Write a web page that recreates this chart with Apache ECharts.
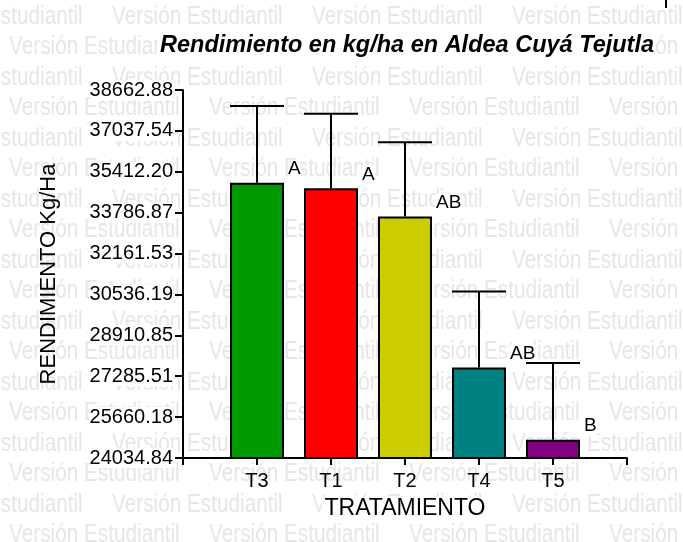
<!DOCTYPE html>
<html>
<head>
<meta charset="utf-8">
<script src="https://cdn.jsdelivr.net/npm/echarts@6/dist/echarts.min.js"></script>
<style>
  html, body { margin: 0; padding: 0; background: #fff; }
  #chart { width: 683px; height: 542px; }
</style>
</head>
<body>
<div id="chart"></div>
<script>
// data
const categories = ["T3", "T1", "T2", "T4", "T5"];
const means = [34980, 34760, 33630, 27630, 24760];
const errors = [3050, 2960, 2960, 3020, 3050];
const letters = ["A", "A", "AB", "AB", "B"];
const yTicks = [24034.84, 25660.18, 27285.51, 28910.85, 30536.19,
                32161.53, 33786.87, 35412.20, 37037.54, 38662.88];
const barColors = ["#009900", "#ff0000", "#cccc00", "#008080", "#800080"];

const BAR_W = 54;
const chart = echarts.init(document.getElementById("chart"));

// category axis has an empty slot on each side, like the original
const xData = [""].concat(categories, [""]);
const barData = ["-"];
means.forEach((v, i) => {
    barData.push({ value: v, itemStyle: { color: barColors[i] } });
});
barData.push("-");
const errData = means.map((v, i) => [i + 1, v, v + errors[i]]);

// "Versión Estudiantil" watermark rows (narrow font faked with scaleX)
const wm = [];
for (let r = 0; r < 18; r++) {
    const y = 17 + 30.5 * r;
    const x0 = r % 2 === 0 ? -88 : 9;
    for (let k = 0; k < 4; k++) {
        wm.push({
            type: "text",
            x: x0 + 200 * k,
            y: y,
            scaleX: 0.83,
            z: -10,
            silent: true,
            style: {
                text: "Versión Estudiantil",
                fill: "#e6e6e6",
                font: "25px 'Liberation Sans', sans-serif",
                verticalAlign: "middle"
            }
        });
    }
}
wm.push({
    type: "rect",
    shape: { x: 665, y: 0, width: 2, height: 8 },
    style: { fill: "#000" }
});

chart.setOption({
    animation: false,
    backgroundColor: "#fff",
    graphic: wm,
    title: {
        text: "Rendimiento en kg/ha en Aldea Cuyá Tejutla",
        left: 158,
        top: 34,
        padding: [0, 2],
        backgroundColor: "#fff",
        textStyle: {
            fontFamily: "Liberation Sans",
            fontSize: 23.5,
            fontWeight: "bold",
            fontStyle: "italic",
            color: "#000"
        }
    },
    grid: {
        left: 183,
        right: 56,
        top: 90,
        bottom: 84,
        outerBoundsMode: "none"
    },
    xAxis: {
        type: "category",
        data: xData,
        boundaryGap: false,
        name: "TRATAMIENTO",
        nameLocation: "middle",
        nameGap: 39,
        nameTextStyle: {
            fontFamily: "Liberation Sans",
            fontSize: 23,
            color: "#000",
            backgroundColor: "#fff",
            padding: [0, 3]
        },
        axisLine: { lineStyle: { color: "#000", width: 2 } },
        axisTick: { length: 7, lineStyle: { color: "#000", width: 2 } },
        axisLabel: {
            margin: 13,
            fontFamily: "Liberation Sans",
            fontSize: 20,
            color: "#000"
        },
        splitLine: { show: false }
    },
    yAxis: {
        type: "value",
        min: yTicks[0],
        max: yTicks[yTicks.length - 1],
        name: "RENDIMIENTO Kg/Ha",
        nameLocation: "middle",
        nameRotate: 90,
        nameGap: 123,
        nameTextStyle: {
            fontFamily: "Liberation Sans",
            fontSize: 22,
            color: "#000"
        },
        axisLine: { show: true, lineStyle: { color: "#000", width: 2 } },
        axisTick: {
            show: true,
            length: 8,
            customValues: yTicks,
            lineStyle: { color: "#000", width: 2 }
        },
        axisLabel: {
            customValues: yTicks,
            margin: 10,
            fontFamily: "Liberation Sans",
            fontSize: 20,
            color: "#000",
            backgroundColor: "#fff",
            formatter: v => v.toFixed(2)
        },
        splitLine: { show: false }
    },
    series: [
        {
            type: "bar",
            data: barData,
            barWidth: BAR_W,
            itemStyle: { borderColor: "#000", borderWidth: 2 },
            label: {
                show: true,
                position: "top",
                align: "left",
                distance: 4,
                offset: [31, 0],
                fontFamily: "Liberation Sans",
                fontSize: 19,
                color: "#000",
                backgroundColor: "#fff",
                formatter: p => letters[p.dataIndex - 1]
            }
        },
        {
            type: "custom",
            data: errData,
            z: 3,
            renderItem: (params, api) => {
                const x = api.value(0);
                const base = api.coord([x, api.value(1)]);
                const top = api.coord([x, api.value(2)]);
                const half = BAR_W / 2;
                const ls = { stroke: "#000", lineWidth: 2 };
                return {
                    type: "group",
                    children: [
                        { type: "line", shape: { x1: top[0], y1: base[1], x2: top[0], y2: top[1] }, style: ls },
                        { type: "line", shape: { x1: top[0] - half, y1: top[1], x2: top[0] + half, y2: top[1] }, style: ls }
                    ]
                };
            }
        }
    ]
});
</script>
</body>
</html>
